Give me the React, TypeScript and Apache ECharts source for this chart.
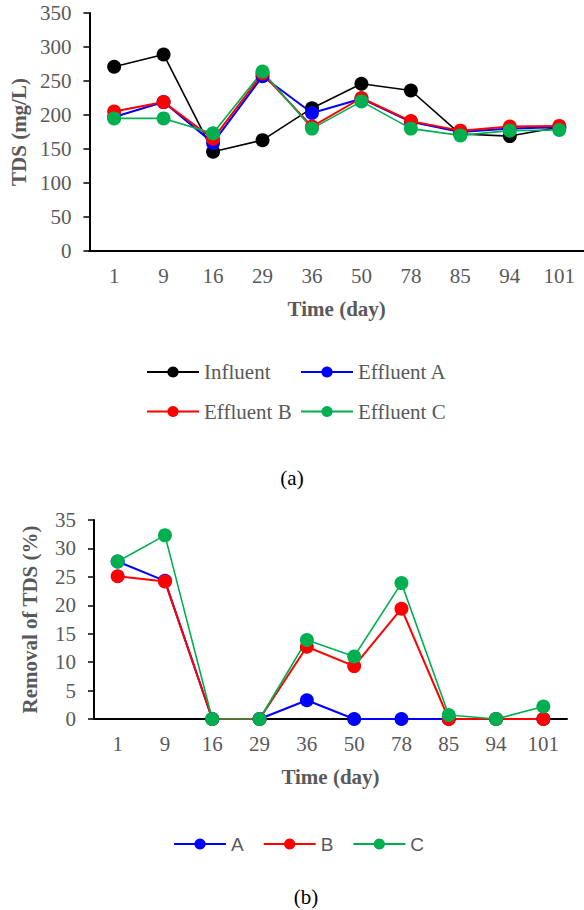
import React, { useEffect, useRef } from "react";
import * as echarts from "echarts";

const days = ["1", "9", "16", "29", "36", "50", "78", "85", "94", "101"];

const influent = [271, 289, 146, 163, 210, 246, 236, 172, 169, 182];
const effluentA = [197, 219, 159, 257, 203, 224, 190, 175, 180, 182];
const effluentB = [205, 219, 165, 261, 183, 225, 191, 177, 183, 184];
const effluentC = [195, 195, 173, 264, 180, 220, 180, 170, 177, 178];

const removalA = [27.7, 24.3, 0, 0, 3.3, 0, 0, 0, 0, 0];
const removalB = [25.1, 24.2, 0, 0, 12.7, 9.3, 19.4, 0, 0, 0];
const removalC = [27.7, 32.3, 0, 0, 13.9, 11.0, 23.9, 0.7, 0, 2.2];

const tdsTicks = { min: 0, max: 350, interval: 50 };
const remTicks = { min: 0, max: 35, interval: 5 };

const SERIF = "Liberation Serif, Times New Roman, serif";
const SANS = "Liberation Sans, Arial, sans-serif";
const GRAY = "#595959";
const COLORS = { inf: "#000000", a: "#0000FF", b: "#FF0000", c: "#00B050" };

function xAxis(gridIndex: number) {
  return {
    type: "category",
    gridIndex,
    data: days,
    boundaryGap: true,
    name: "Time (day)",
    nameLocation: "middle",
    nameGap: 47,
    nameTextStyle: { fontFamily: SERIF, fontSize: 21, fontWeight: "bold", color: GRAY },
    axisLine: { lineStyle: { color: "#000", width: 2 } },
    axisTick: { interval: 0, length: 6, lineStyle: { color: "#000", width: 1.5 } },
    axisLabel: { interval: 0, margin: 14, fontFamily: SERIF, fontSize: 21, color: GRAY },
    splitLine: { show: false },
  };
}

function yAxis(gridIndex: number, name: string, t: { min: number; max: number; interval: number }, gap: number) {
  return {
    type: "value",
    gridIndex,
    min: t.min,
    max: t.max,
    interval: t.interval,
    name,
    nameLocation: "middle",
    nameGap: gap,
    nameTextStyle: { fontFamily: SERIF, fontSize: 21, fontWeight: "bold", color: GRAY },
    axisLine: { show: true, lineStyle: { color: "#000", width: 2 } },
    axisTick: { show: true, length: 6, lineStyle: { color: "#000", width: 1.5 } },
    axisLabel: { margin: 18, fontFamily: SERIF, fontSize: 21, color: GRAY },
    splitLine: { show: false },
  };
}

function lineSeries(name: string, data: number[], color: string, idx: number, width = 1.8) {
  return {
    type: "line",
    name,
    data,
    xAxisIndex: idx,
    yAxisIndex: idx,
    symbol: "circle",
    symbolSize: 14,
    showSymbol: true,
    itemStyle: { color },
    lineStyle: { color, width },
    emphasis: { disabled: true },
  };
}

export default function App() {
  const ref = useRef<HTMLDivElement>(null);
  useEffect(() => {
    if (!ref.current) return;
    const chart = echarts.init(ref.current, null, { renderer: "svg" });
    const legendText = { fontFamily: SERIF, fontSize: 21, color: GRAY, lineHeight: 22 };
    chart.setOption({
      animation: false,
      backgroundColor: "#fff",
      grid: [
        { left: 87, top: 13, width: 498, height: 238, containLabel: false },
        { left: 94, top: 520, width: 473, height: 199, containLabel: false },
      ],
      xAxis: [xAxis(0), xAxis(1)],
      yAxis: [
        yAxis(0, "TDS (mg/L)", tdsTicks, 59),
        yAxis(1, "Removal of TDS (%)", remTicks, 54),
      ],
      legend: [
        {
          data: ["Influent", "Effluent B"],
          orient: "vertical",
          left: 146,
          top: 361,
          itemWidth: 52,
          itemHeight: 14,
          itemGap: 17.5,
          textStyle: legendText,
          padding: 0,
        },
        {
          data: ["Effluent A", "Effluent C"],
          orient: "vertical",
          left: 300,
          top: 361,
          itemWidth: 52,
          itemHeight: 14,
          itemGap: 17.5,
          textStyle: legendText,
          padding: 0,
        },
        {
          data: ["A", "B", "C"],
          orient: "horizontal",
          left: 173,
          top: 833,
          itemWidth: 52,
          itemHeight: 14,
          itemGap: 19,
          textStyle: { fontFamily: SANS, fontSize: 19, color: GRAY, lineHeight: 22 },
          padding: 0,
        },
      ],
      graphic: [
        {
          type: "text",
          x: 292,
          y: 478,
          style: { text: "(a)", font: `21px ${SERIF}`, fill: "#000", textAlign: "center", textVerticalAlign: "middle" },
        },
        {
          type: "text",
          x: 306,
          y: 897,
          style: { text: "(b)", font: `21px ${SERIF}`, fill: "#000", textAlign: "center", textVerticalAlign: "middle" },
        },
      ],
      series: [
        lineSeries("Influent", influent, COLORS.inf, 0, 1.6),
        lineSeries("Effluent A", effluentA, COLORS.a, 0, 2),
        lineSeries("Effluent B", effluentB, COLORS.b, 0, 2),
        lineSeries("Effluent C", effluentC, COLORS.c, 0, 1.6),
        lineSeries("A", removalA, COLORS.a, 1, 2),
        lineSeries("B", removalB, COLORS.b, 1, 2),
        lineSeries("C", removalC, COLORS.c, 1, 1.6),
      ],
    });
    return () => chart.dispose();
  }, []);
  return (
    <div
      ref={ref}
      style={{ position: "fixed", left: 0, top: 0, width: 584, height: 910, background: "#fff" }}
    />
  );
}
